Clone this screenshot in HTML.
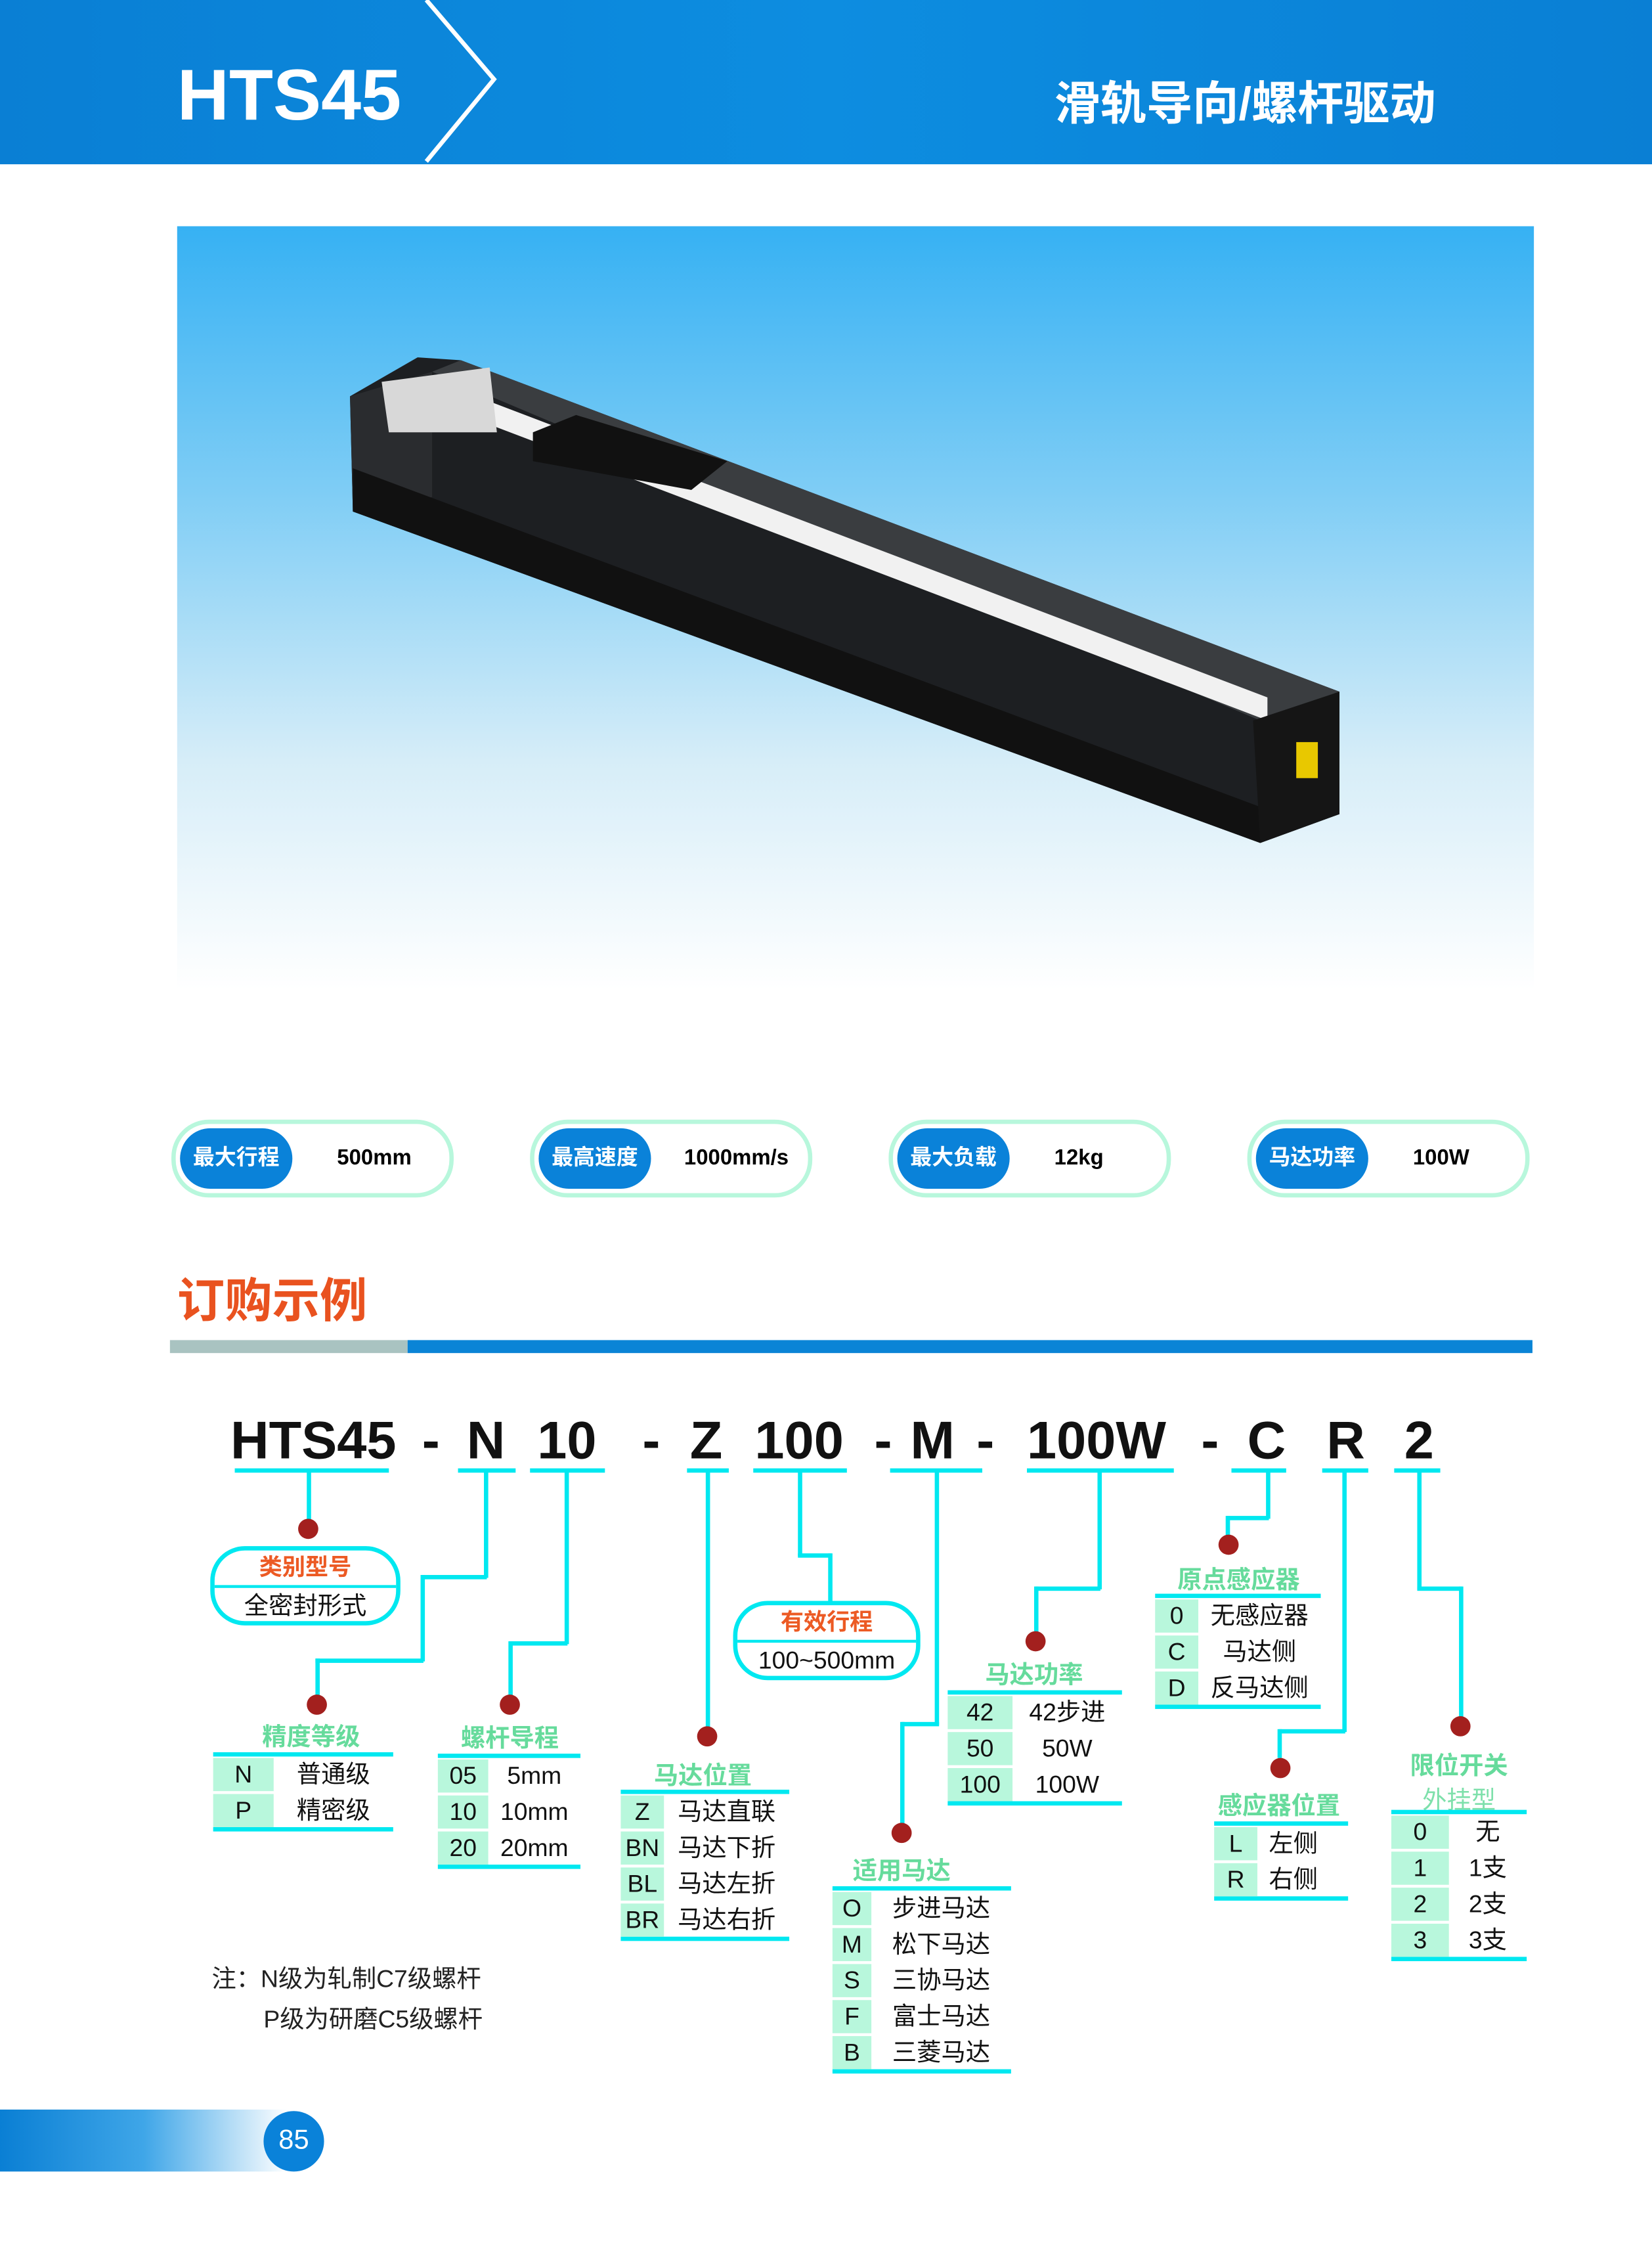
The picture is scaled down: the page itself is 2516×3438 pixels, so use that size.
<!DOCTYPE html>
<html><head><meta charset="utf-8">
<style>
html,body{margin:0;padding:0;background:#fff;}
body{width:2516px;height:3438px;overflow:hidden;position:relative;}
#s{position:absolute;left:0;top:0;width:1147px;height:1567px;transform:scale(2.19355,2.194);transform-origin:0 0;font-family:"Liberation Sans","Noto Sans CJK SC",sans-serif;}
.a{position:absolute;}
.pill{position:absolute;width:190px;height:48px;border:3px solid #b8f7dc;border-radius:26px;top:777px;}
.pill .in{position:absolute;left:3px;top:3px;width:78px;height:42px;background:#0a82d9;border-radius:22px;color:#fff;font-weight:bold;font-size:15px;line-height:42px;text-align:center;}
.pill .v{position:absolute;left:112px;top:0;line-height:48px;font-weight:bold;font-size:15px;color:#000;}
.code{position:absolute;top:978px;font-size:37px;font-weight:bold;color:#111;line-height:44px;}
.ul{position:absolute;top:1019px;height:3px;background:#00e8f0;}
.h{position:absolute;height:2.5px;background:#00e8f0;}
.vl{position:absolute;width:2.5px;background:#00e8f0;}
.dot{position:absolute;width:14px;height:14px;border-radius:50%;background:#a3201e;}
.ttl{position:absolute;font-size:17px;font-weight:bold;color:#66db9c;white-space:nowrap;transform:translateX(-50%);}
.tb{position:absolute;border-top:3px solid #00e8f0;border-bottom:3px solid #00e8f0;padding-top:1px;}
.tb .r{display:flex;height:23px;margin-bottom:2px;font-size:17px;line-height:23px;color:#111;}
.tb .r:last-child{margin-bottom:0}
.tb .c1{background:#b8f7dc;text-align:center;}
.tb .c2{text-align:center;}
.box{position:absolute;border:3px solid #00e8f0;border-radius:24px;}
.box .t{height:24px;border-bottom:2.5px solid #00e8f0;text-align:center;color:#ec5a24;font-weight:bold;font-size:16px;line-height:26px;}
.box .b{text-align:center;font-size:17px;line-height:26px;color:#111;}
</style></head><body><div id="s">
<!-- header -->
<div class="a" style="left:0;top:0;width:1147px;height:114px;background:linear-gradient(90deg,#0a7fd4,#0d8de0 50%,#0a7fd4);"></div>
<svg class="a" style="left:0;top:0" width="1147" height="115"><polyline points="296,0 343,55 296,112" fill="none" stroke="#fff" stroke-width="3"/></svg>
<div class="a" style="left:123px;top:36px;font-size:50px;font-weight:bold;color:#fff;line-height:60px;">HTS45</div>
<div class="a" style="left:732px;top:52px;font-size:32px;font-weight:bold;color:#fff;line-height:40px;">滑轨导向/螺杆驱动</div>
<!-- photo -->
<div class="a" style="left:123px;top:157px;width:942px;height:530px;background:linear-gradient(180deg,#36b1f3 0%,#7fcdf5 35%,#d6edf8 70%,#fff 100%);"></div>
<svg class="a" style="left:0;top:0" width="1147" height="700">
<polygon points="243,275 290,248 320,250 930,480 930,565 875,585 245,355" fill="#1d1f22"/>
<polygon points="243,275 300,258 300,345 245,355" fill="#2a2c2f"/>
<polygon points="300,258 320,250 930,480 875,500" fill="#3a3d40"/>
<polygon points="312,268 880,484 880,500 312,284" fill="#f1f1f1"/>
<polygon points="265,265 340,255 345,300 270,300" fill="#d8d8d8"/>
<polygon points="370,300 400,288 505,320 480,340 370,320" fill="#111"/>
<polygon points="245,325 875,560 875,585 245,355" fill="#111"/>
<polygon points="870,500 930,480 930,565 875,585" fill="#151515"/>
<rect x="900" y="515" width="15" height="25" fill="#e8c800"/>
</svg>
<!-- pills -->
<div class="pill" style="left:119px"><div class="in">最大行程</div><div class="v">500mm</div></div>
<div class="pill" style="left:368px"><div class="in">最高速度</div><div class="v" style="left:104px">1000mm/s</div></div>
<div class="pill" style="left:617px"><div class="in">最大负载</div><div class="v">12kg</div></div>
<div class="pill" style="left:866px"><div class="in">马达功率</div><div class="v">100W</div></div>
<!-- title -->
<div class="a" style="left:123px;top:882px;font-size:33px;font-weight:bold;color:#e9521f;line-height:42px;">订购示例</div>
<div class="a" style="left:118px;top:930px;width:165px;height:9px;background:#a9c3c1;"></div>
<div class="a" style="left:283px;top:930px;width:781px;height:9px;background:#0a84d6;"></div>
<!-- code -->
<div class="code" style="left:160px">HTS45</div>
<div class="code" style="left:293px">-</div>
<div class="code" style="left:324px">N</div>
<div class="code" style="left:373px">10</div>
<div class="code" style="left:446px">-</div>
<div class="code" style="left:479px">Z</div>
<div class="code" style="left:524px">100</div>
<div class="code" style="left:607px">-</div>
<div class="code" style="left:632px">M</div>
<div class="code" style="left:678px">-</div>
<div class="code" style="left:713px">100W</div>
<div class="code" style="left:834px">-</div>
<div class="code" style="left:866px">C</div>
<div class="code" style="left:921px">R</div>
<div class="code" style="left:975px">2</div>
<div class="ul" style="left:163px;width:107px"></div>
<div class="ul" style="left:318px;width:40px"></div>
<div class="ul" style="left:368px;width:52px"></div>
<div class="ul" style="left:477px;width:29px"></div>
<div class="ul" style="left:523px;width:65px"></div>
<div class="ul" style="left:618px;width:64px"></div>
<div class="ul" style="left:713px;width:102px"></div>
<div class="ul" style="left:855px;width:38px"></div>
<div class="ul" style="left:918px;width:32px"></div>
<div class="ul" style="left:968px;width:32px"></div>
<!-- HTS45 -->
<div class="vl" style="left:213px;top:1021px;height:36px"></div>
<div class="dot" style="left:207px;top:1054px"></div>
<div class="box" style="left:146px;top:1073px;width:126px;height:49px"><div class="t">类别型号</div><div class="b">全密封形式</div></div>
<!-- N -->
<div class="vl" style="left:336px;top:1021px;height:74px"></div>
<div class="h" style="left:293px;top:1093px;width:45px"></div>
<div class="vl" style="left:292px;top:1093px;height:60px"></div>
<div class="h" style="left:219px;top:1151px;width:75px"></div>
<div class="vl" style="left:219px;top:1151px;height:26px"></div>
<div class="dot" style="left:213px;top:1176px"></div>
<div class="ttl" style="left:216px;top:1191px">精度等级</div>
<div class="tb" style="left:148px;top:1216px;width:125px"><div class="r"><div class="c1" style="width:42px">N</div><div class="c2" style="width:83px">普通级</div></div><div class="r"><div class="c1" style="width:42px">P</div><div class="c2" style="width:83px">精密级</div></div></div>
<!-- 10 -->
<div class="vl" style="left:392px;top:1021px;height:120px"></div>
<div class="h" style="left:354px;top:1139px;width:40px"></div>
<div class="vl" style="left:353px;top:1139px;height:38px"></div>
<div class="dot" style="left:347px;top:1176px"></div>
<div class="ttl" style="left:354px;top:1192px">螺杆导程</div>
<div class="tb" style="left:304px;top:1217px;width:99px"><div class="r"><div class="c1" style="width:35px">05</div><div class="c2" style="width:64px">5mm</div></div><div class="r"><div class="c1" style="width:35px">10</div><div class="c2" style="width:64px">10mm</div></div><div class="r"><div class="c1" style="width:35px">20</div><div class="c2" style="width:64px">20mm</div></div></div>
<!-- Z -->
<div class="vl" style="left:490px;top:1021px;height:178px"></div>
<div class="dot" style="left:484px;top:1198px"></div>
<div class="ttl" style="left:488px;top:1218px">马达位置</div>
<div class="tb" style="left:431px;top:1242px;width:117px"><div class="r"><div class="c1" style="width:30px">Z</div><div class="c2" style="width:87px">马达直联</div></div><div class="r"><div class="c1" style="width:30px">BN</div><div class="c2" style="width:87px">马达下折</div></div><div class="r"><div class="c1" style="width:30px">BL</div><div class="c2" style="width:87px">马达左折</div></div><div class="r"><div class="c1" style="width:30px">BR</div><div class="c2" style="width:87px">马达右折</div></div></div>
<!-- 100 -->
<div class="vl" style="left:554px;top:1021px;height:59px"></div>
<div class="h" style="left:554px;top:1078px;width:23px"></div>
<div class="vl" style="left:575px;top:1078px;height:34px"></div>
<div class="box" style="left:509px;top:1111px;width:124px;height:49px"><div class="t">有效行程</div><div class="b">100~500mm</div></div>
<!-- M -->
<div class="vl" style="left:649px;top:1021px;height:176px"></div>
<div class="h" style="left:626px;top:1195px;width:26px"></div>
<div class="vl" style="left:625px;top:1195px;height:72px"></div>
<div class="dot" style="left:619px;top:1265px"></div>
<div class="ttl" style="left:626px;top:1284px">适用马达</div>
<div class="tb" style="left:578px;top:1309px;width:124px"><div class="r"><div class="c1" style="width:27px">O</div><div class="c2" style="width:97px">步进马达</div></div><div class="r"><div class="c1" style="width:27px">M</div><div class="c2" style="width:97px">松下马达</div></div><div class="r"><div class="c1" style="width:27px">S</div><div class="c2" style="width:97px">三协马达</div></div><div class="r"><div class="c1" style="width:27px">F</div><div class="c2" style="width:97px">富士马达</div></div><div class="r"><div class="c1" style="width:27px">B</div><div class="c2" style="width:97px">三菱马达</div></div></div>
<!-- 100W -->
<div class="vl" style="left:762px;top:1021px;height:82px"></div>
<div class="h" style="left:719px;top:1101px;width:45px"></div>
<div class="vl" style="left:718px;top:1101px;height:33px"></div>
<div class="dot" style="left:712px;top:1132px"></div>
<div class="ttl" style="left:718px;top:1148px">马达功率</div>
<div class="tb" style="left:658px;top:1173px;width:121px"><div class="r"><div class="c1" style="width:45px">42</div><div class="c2" style="width:76px">42步进</div></div><div class="r"><div class="c1" style="width:45px">50</div><div class="c2" style="width:76px">50W</div></div><div class="r"><div class="c1" style="width:45px">100</div><div class="c2" style="width:76px">100W</div></div></div>
<!-- C -->
<div class="vl" style="left:879px;top:1021px;height:33px"></div>
<div class="h" style="left:852px;top:1052px;width:29px"></div>
<div class="vl" style="left:851px;top:1052px;height:14px"></div>
<div class="dot" style="left:846px;top:1065px"></div>
<div class="ttl" style="left:860px;top:1082px">原点感应器</div>
<div class="tb" style="left:802px;top:1106px;width:115px"><div class="r"><div class="c1" style="width:30px">0</div><div class="c2" style="width:85px">无感应器</div></div><div class="r"><div class="c1" style="width:30px">C</div><div class="c2" style="width:85px">马达侧</div></div><div class="r"><div class="c1" style="width:30px">D</div><div class="c2" style="width:85px">反马达侧</div></div></div>
<!-- R -->
<div class="vl" style="left:932px;top:1021px;height:181px"></div>
<div class="h" style="left:888px;top:1200px;width:46px"></div>
<div class="vl" style="left:887px;top:1200px;height:20px"></div>
<div class="dot" style="left:882px;top:1220px"></div>
<div class="ttl" style="left:888px;top:1239px">感应器位置</div>
<div class="tb" style="left:843px;top:1264px;width:93px"><div class="r"><div class="c1" style="width:30px">L</div><div class="c2" style="width:50px">左侧</div></div><div class="r"><div class="c1" style="width:30px">R</div><div class="c2" style="width:50px">右侧</div></div></div>
<!-- 2 -->
<div class="vl" style="left:984px;top:1021px;height:82px"></div>
<div class="h" style="left:984px;top:1101px;width:31px"></div>
<div class="vl" style="left:1013px;top:1101px;height:92px"></div>
<div class="dot" style="left:1007px;top:1191px"></div>
<div class="ttl" style="left:1013px;top:1211px">限位开关</div>
<div class="ttl" style="left:1013px;top:1235px;font-weight:normal;color:#7ee0ab">外挂型</div>
<div class="tb" style="left:966px;top:1256px;width:94px"><div class="r"><div class="c1" style="width:40px">0</div><div class="c2" style="width:54px">无</div></div><div class="r"><div class="c1" style="width:40px">1</div><div class="c2" style="width:54px">1支</div></div><div class="r"><div class="c1" style="width:40px">2</div><div class="c2" style="width:54px">2支</div></div><div class="r"><div class="c1" style="width:40px">3</div><div class="c2" style="width:54px">3支</div></div></div>
<!-- note -->
<div class="a" style="left:147px;top:1363px;font-size:17px;color:#222;line-height:22px;">注：N级为轧制C7级螺杆</div>
<div class="a" style="left:183px;top:1391px;font-size:17px;color:#222;line-height:22px;">P级为研磨C5级螺杆</div>
<!-- footer -->
<div class="a" style="left:0;top:1464px;width:200px;height:43px;background:linear-gradient(90deg,#0a7fd4,#3fa6e8 50%,#fff);"></div>
<div class="a" style="left:183px;top:1465px;width:42px;height:42px;border-radius:50%;background:#0a82d9;color:#fff;font-size:19px;line-height:42px;text-align:center;">85</div>
</div></body></html>
